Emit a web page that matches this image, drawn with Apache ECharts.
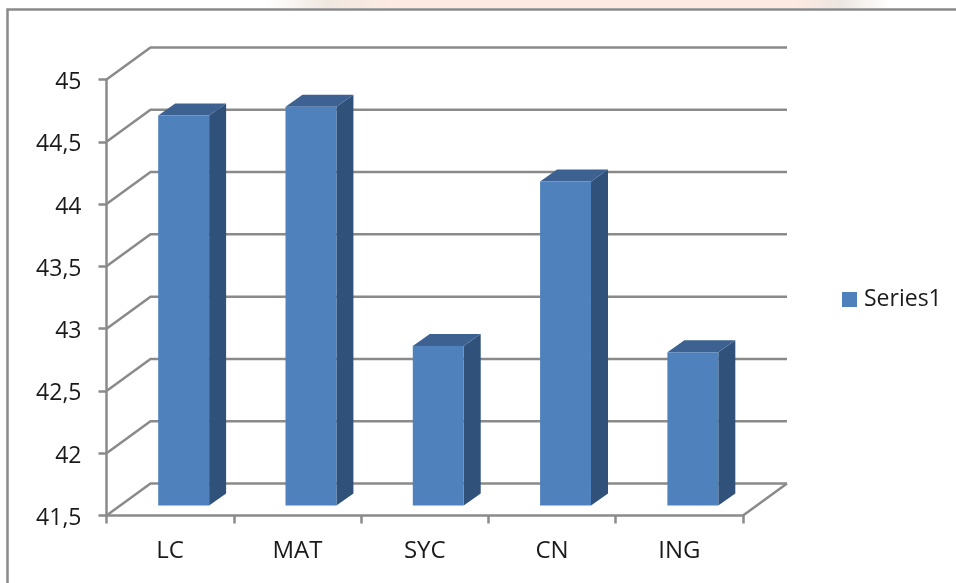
<!DOCTYPE html>
<html>
<head>
<meta charset="utf-8">
<title>Series1</title>
<script src="https://cdn.jsdelivr.net/npm/echarts@6/dist/echarts.min.js"></script>
<style>
  html, body { margin: 0; padding: 0; background: #fff; }
  /* the reference is a slightly soft screenshot */
  #chart { width: 956px; height: 583px; filter: blur(0.4px); }
</style>
</head>
<body>
<div id="chart"></div>
<script>
const categories = ["LC", "MAT", "SYC", "CN", "ING"];
const values = [44.63, 44.7, 42.78, 44.1, 42.73];
const yTicks = [41.5, 42, 42.5, 43, 43.5, 44, 44.5, 45];
const seriesName = "Series1";

// 3d look: how far the back wall sits from the axes, and how far the bars sit
const wallDx = 44, wallDy = -32;
const barDx = 13.5, barDy = -10;
const sideDx = 17, sideDy = -12;
const lineColor = "#8a8a8a";
const lineWidth = 2.5;
const fontFamily = "Open Sans";
const textColor = "#1a1a1a";

const chart = echarts.init(document.getElementById("chart"));

function renderWall(params, api) {
  const rect = params.coordSys;
  const y = api.coord([0, api.value(1)])[1];
  const x0 = rect.x, x1 = rect.x + rect.width;
  const style = { stroke: lineColor, lineWidth, fill: null };
  const children = [
    { type: "polyline", shape: { points: [[x0, y], [x0 + wallDx, y + wallDy], [x1 + wallDx, y + wallDy]] }, style },
  ];
  // floor closes on the right side
  if (params.dataIndex === 0) {
    children.push({ type: "line", shape: { x1: x1, y1: y, x2: x1 + wallDx, y2: y + wallDy }, style });
  }
  return { type: "group", children };
}

function renderBar(params, api) {
  const center = api.coord([api.value(0), api.value(1)]);
  const base = api.coord([api.value(0), yTicks[0]]);
  const w = api.size([1, 0])[0] * 0.4;
  const l = center[0] + barDx - w / 2;
  const r = l + w;
  const t = center[1] + barDy;
  const b = base[1] + barDy;
  return {
    type: "group",
    children: [
      {
        type: "polygon",
        shape: { points: [[r, t], [r + sideDx, t + sideDy], [r + sideDx, b + sideDy], [r, b]] },
        style: { fill: "#30527a" },
      },
      {
        type: "polygon",
        shape: { points: [[l, t], [l + sideDx, t + sideDy], [r + sideDx, t + sideDy], [r, t]] },
        style: { fill: "#3d6291" },
      },
      {
        type: "rect",
        shape: { x: l, y: t, width: w, height: b - t },
        style: { fill: "#4f81bd" },
      },
    ],
  };
}

const option = {
  animation: false,
  backgroundColor: "#fff",
  graphic: [
    {
      type: "rect",
      silent: true,
      shape: { x: 265, y: 0, width: 625, height: 8 },
      style: {
        fill: new echarts.graphic.LinearGradient(0, 0, 1, 0, [
          { offset: 0, color: "#ffffff" },
          { offset: 0.1, color: "#f0e8e0" },
          { offset: 0.2, color: "#fdeae2" },
          { offset: 0.85, color: "#fdeae2" },
          { offset: 0.92, color: "#ece6e0" },
          { offset: 1, color: "#ffffff" },
        ]),
      },
    },
    {
      type: "polyline",
      silent: true,
      shape: { points: [[7.5, 583], [7.5, 9.5], [956, 9.5]] },
      style: { stroke: "#8a8a8a", lineWidth: 2.5, fill: null },
    },
  ],
  legend: {
    left: 837,
    top: 283,
    data: [seriesName],
    icon: "rect",
    itemWidth: 15,
    itemHeight: 15,
    itemGap: 0,
    selectedMode: false,
    textStyle: { color: textColor, fontFamily, fontSize: 23, padding: [0, 0, 0, 2] },
  },
  grid: { left: 106.5, right: 213, top: 79.5, bottom: 67.5 },
  xAxis: {
    type: "category",
    data: categories,
    axisLine: { lineStyle: { color: lineColor, width: lineWidth } },
    axisTick: { show: true, length: 8, lineStyle: { color: lineColor, width: lineWidth } },
    axisLabel: { color: textColor, fontFamily, fontSize: 24, margin: 24 },
    splitLine: { show: false },
  },
  yAxis: {
    type: "value",
    min: yTicks[0],
    max: yTicks[yTicks.length - 1],
    interval: 0.5,
    axisLine: { show: true, lineStyle: { color: lineColor, width: lineWidth } },
    axisTick: { show: true, length: 8, lineStyle: { color: lineColor, width: lineWidth } },
    axisLabel: {
      color: textColor,
      fontFamily,
      fontSize: 23,
      margin: 25,
      // labels sit a little below their tick in the reference
      verticalAlign: "top",
      lineHeight: 6,
      formatter: (v) => String(v).replace(".", ","),
    },
    splitLine: { show: false },
  },
  series: [
    {
      name: "wall",
      type: "custom",
      silent: true,
      clip: false,
      z: 1,
      renderItem: renderWall,
      encode: { x: 0, y: 1 },
      data: yTicks.map((t) => [0, t]),
    },
    {
      name: seriesName,
      type: "custom",
      clip: false,
      z: 2,
      itemStyle: { color: "#4f81bd" },
      renderItem: renderBar,
      encode: { x: 0, y: 1 },
      data: values.map((v, i) => [i, v]),
    },
  ],
};

chart.setOption(option);
</script>
</body>
</html>
